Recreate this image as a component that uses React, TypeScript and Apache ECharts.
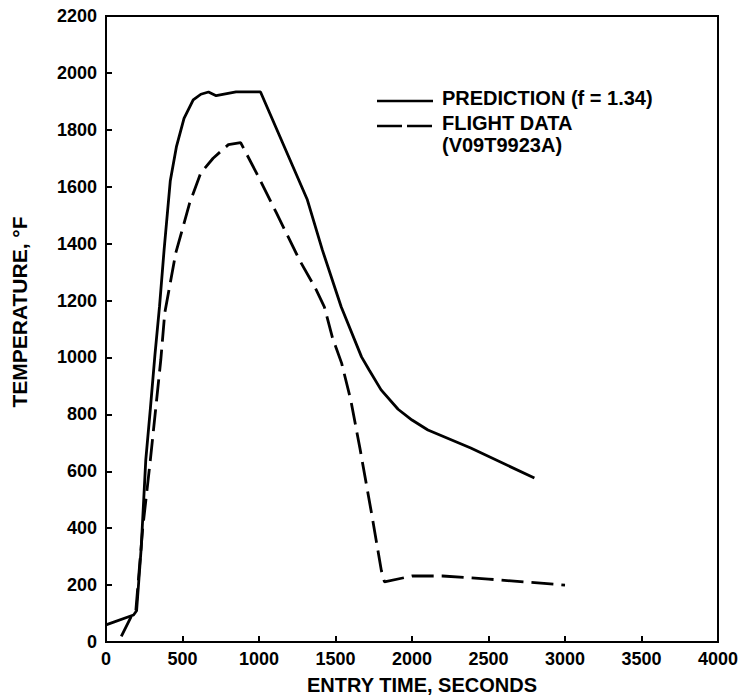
import React, { useEffect, useRef } from "react";
import * as echarts from "echarts";

const xTicks = [0, 500, 1000, 1500, 2000, 2500, 3000, 3500, 4000];
const yTicks = [0, 200, 400, 600, 800, 1000, 1200, 1400, 1600, 1800, 2000, 2200];

const predictionTime = [0, 180, 200, 230, 260, 290, 320, 350, 380, 420, 460, 510, 570, 620, 670, 720, 850, 1010, 1316, 1414, 1537, 1670, 1720, 1798, 1909, 2000, 2104, 2384, 2800];
const predictionTemp = [60, 95, 110, 330, 640, 820, 1010, 1180, 1380, 1620, 1740, 1840, 1905, 1925, 1933, 1920, 1933, 1933, 1554, 1378, 1178, 1002, 956, 886, 818, 780, 745, 682, 576];

const flightTime = [100, 170, 195, 240, 290, 326, 358, 384, 456, 547, 619, 700, 800, 880, 984, 1114, 1264, 1368, 1427, 1480, 1540, 1600, 1660, 1740, 1800, 1820, 2000, 2200, 2500, 3000];
const flightTemp = [20, 95, 110, 400, 640, 826, 991, 1156, 1367, 1543, 1648, 1700, 1748, 1755, 1648, 1508, 1343, 1244, 1178, 1070, 980, 850, 680, 439, 250, 211, 232, 232, 221, 200];

const FONT = "'Liberation Sans', Arial, Helvetica, sans-serif";

export default function App() {
  const ref = useRef<HTMLDivElement>(null);
  useEffect(() => {
    document.body.style.margin = "0";
    if (!ref.current) return;
    const chart = echarts.init(ref.current, undefined, { renderer: "svg" });
    const pred = predictionTime.map((t, i) => [t, predictionTemp[i]]);
    const flight = flightTime.map((t, i) => [t, flightTemp[i]]);
    chart.setOption({
      animation: false,
      backgroundColor: "#ffffff",
      grid: {
        left: 106,
        right: 24,
        top: 16,
        bottom: 58,
        show: true,
        borderColor: "#000",
        borderWidth: 2,
        backgroundColor: "transparent",
      },
      xAxis: {
        type: "value",
        min: 0,
        max: 4000,
        interval: 500,
        name: "ENTRY TIME, SECONDS",
        nameLocation: "middle",
        nameGap: 33,
        nameTextStyle: {
          fontFamily: FONT,
          fontWeight: "bold",
          fontSize: 20,
          color: "#000",
          padding: [0, 0, 0, 20],
        },
        axisLine: { show: true, lineStyle: { color: "#000", width: 2 } },
        axisTick: { show: true, inside: true, length: 6, lineStyle: { color: "#000", width: 2 } },
        axisLabel: {
          color: "#000",
          fontFamily: FONT,
          fontWeight: "bold",
          fontSize: 18,
          margin: 8,
          formatter: (v: number) => (xTicks.includes(v) ? String(v) : ""),
        },
        splitLine: { show: false },
      },
      yAxis: {
        type: "value",
        min: 0,
        max: 2200,
        interval: 200,
        name: "TEMPERATURE, °F",
        nameLocation: "middle",
        nameGap: 76,
        nameTextStyle: {
          fontFamily: FONT,
          fontWeight: "bold",
          fontSize: 21,
          color: "#000",
          padding: [0, 0, 0, 34],
        },
        axisLine: { show: true, lineStyle: { color: "#000", width: 2 } },
        axisTick: { show: true, inside: true, length: 6, lineStyle: { color: "#000", width: 2 } },
        axisLabel: {
          color: "#000",
          fontFamily: FONT,
          fontWeight: "bold",
          fontSize: 18,
          margin: 9,
          formatter: (v: number) => (yTicks.includes(v) ? String(v) : ""),
        },
        splitLine: { show: false },
      },
      series: [
        {
          name: "PREDICTION (f = 1.34)",
          type: "line",
          data: pred,
          symbol: "none",
          lineStyle: { color: "#000", width: 2.8, type: "solid" },
        },
        {
          name: "FLIGHT DATA (V09T9923A)",
          type: "line",
          data: flight,
          symbol: "none",
          lineStyle: { color: "#000", width: 2.8, type: [22, 8] },
        },
      ],
      graphic: [
        {
          type: "line",
          shape: { x1: 377, y1: 101, x2: 433, y2: 101 },
          style: { stroke: "#000", lineWidth: 2.5 },
        },
        {
          type: "text",
          x: 442,
          y: 98,
          style: {
            text: "PREDICTION (f = 1.34)",
            font: `bold 20px ${FONT}`,
            fill: "#000",
            verticalAlign: "middle",
            align: "left",
          },
        },
        {
          type: "line",
          shape: { x1: 377, y1: 126, x2: 433, y2: 126 },
          style: { stroke: "#000", lineWidth: 2.5, lineDash: [25, 5] },
        },
        {
          type: "text",
          x: 442,
          y: 123,
          style: {
            text: "FLIGHT DATA",
            font: `bold 20px ${FONT}`,
            fill: "#000",
            verticalAlign: "middle",
            align: "left",
          },
        },
        {
          type: "text",
          x: 442,
          y: 145,
          style: {
            text: "(V09T9923A)",
            font: `bold 20px ${FONT}`,
            fill: "#000",
            verticalAlign: "middle",
            align: "left",
          },
        },
      ],
    });
    return () => chart.dispose();
  }, []);
  return <div ref={ref} style={{ width: 742, height: 700 }} />;
}
